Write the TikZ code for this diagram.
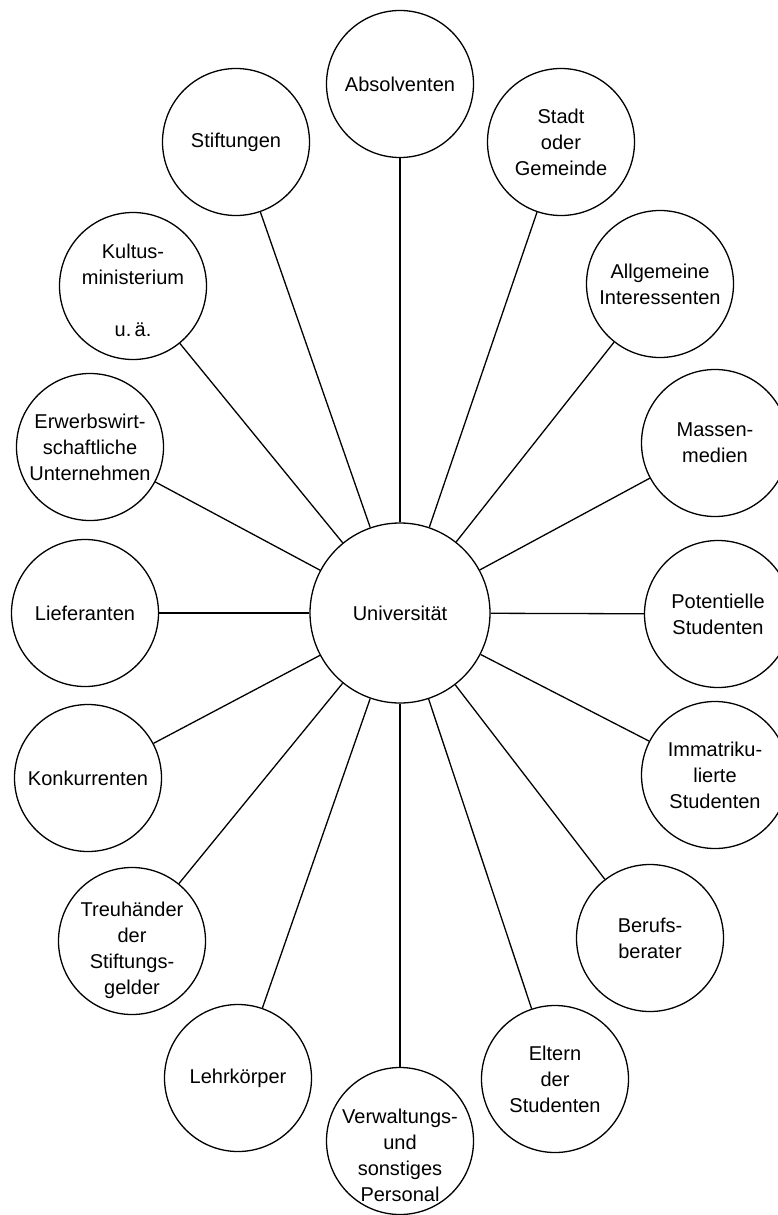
\documentclass[tikz,border=0pt]{standalone}
\usepackage{fontspec}
\setmainfont{Liberation Sans}
\begin{document}
\begin{tikzpicture}[x=1pt,y=-1pt,
  bub/.style={circle,draw,line width=1.3pt,minimum size=147pt,inner sep=0pt,align=center,
    font=\fontsize{20}{26}\selectfont},
  hub/.style={circle,draw,line width=1.3pt,minimum size=180pt,inner sep=0pt,
    font=\fontsize{20}{26}\selectfont},
  txt/.style={inner sep=0pt,align=center,font=\fontsize{20}{26}\selectfont},
  link/.style={line width=1.3pt}]
\useasboundingbox (0,0) rectangle (778,1215);
\node[hub] (uni) at (400,613) {Universität};
\node[bub] (abs) at (400,84) {Absolventen};
\node[bub] (stadt) at (561,142) {Stadt\\oder\\Gemeinde};
\node[bub] (allg) at (660,284) {Allgemeine\\Interessenten};
\node[bub] (massen) at (715,443) {Massen-\\medien};
\node[bub] (pot) at (718,614) {Potentielle\\Studenten};
\node[bub] (imm) at (715,775) {Immatriku-\\lierte\\Studenten};
\node[bub] (beruf) at (650,938) {Berufs-\\berater};
\node[bub] (eltern) at (555,1079) {Eltern\\der\\Studenten};
\node[bub] (verw) at (400,1141) {};
\node[txt] (verwt) at (400,1155) {Verwaltungs-\\und\\sonstiges\\Personal};
\node[bub] (lehr) at (238,1078) {Lehrkörper};
\node[bub] (treu) at (132,941) {};
\node[txt] (treut) at (132,950) {Treuhänder\\der\\Stiftungs-\\gelder};
\node[bub] (konk) at (88,778) {Konkurrenten};
\node[bub] (lief) at (85,613) {Lieferanten};
\node[bub] (erw) at (90,447) {Erwerbswirt-\\schaftliche\\Unternehmen};
\node[bub] (kult) at (133,286) {};
\node[txt] (kultt) at (133,290) {Kultus-\\ministerium\\[26pt]u.\,ä.};
\node[bub] (stift) at (236,142) {Stiftungen};
\foreach \n in {abs,stadt,allg,massen,pot,imm,beruf,eltern,verw,lehr,treu,konk,lief,erw,kult,stift}
  \draw[link] (uni) -- (\n);
\end{tikzpicture}
\end{document}
